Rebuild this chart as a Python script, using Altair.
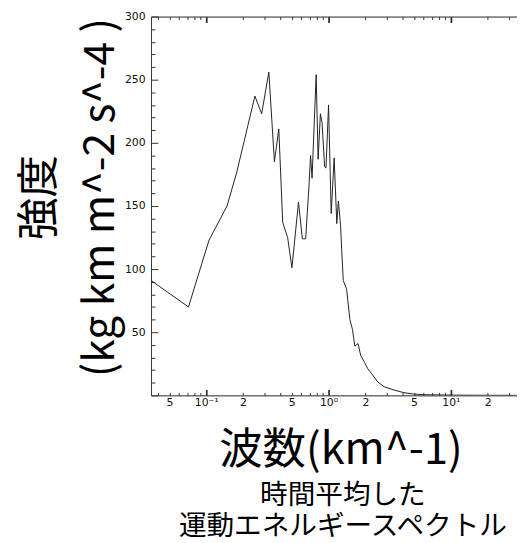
import altair as alt
import pandas as pd

# Wavenumber (km^-1) and intensity
wavenumber = [0.0354, 0.0716, 0.1055, 0.148, 0.178, 0.250, 0.284, 0.325, 0.361, 0.392,
              0.422, 0.463, 0.502, 0.568, 0.611, 0.650, 0.691, 0.713, 0.733, 0.792,
              0.822, 0.858, 0.885, 0.929, 0.953, 1.0, 1.051, 1.111, 1.168, 1.203,
              1.253, 1.281, 1.319, 1.405, 1.494, 1.570, 1.639, 1.742, 1.832, 1.971,
              2.095, 2.298, 2.522, 2.852, 3.434, 4.131, 4.97, 5.98, 10.0, 20.0, 34.7]
intensity = [91, 70, 123, 150, 177, 237, 223, 256, 185, 211,
             137, 125, 101, 153, 124, 124, 165, 190, 172, 254,
             187, 223, 216, 181, 180, 230, 144, 188, 136, 154,
             135, 115, 91, 84, 60, 52, 39, 41, 31.5, 26,
             21, 16, 10.7, 6.8, 4.2, 2.1, 1.0, 0.5, 0.2, 0.05, 0.0]

x_ticks = [0.04, 0.05, 0.06, 0.07, 0.08, 0.09,
           0.1, 0.2, 0.3, 0.4, 0.5, 0.6, 0.7, 0.8, 0.9,
           1, 2, 3, 4, 5, 6, 7, 8, 9, 10, 20, 30]
y_ticks = list(range(0, 310, 10))
x_domain = [0.0354, 34.7]
y_domain = [0, 300]

y_title = ["強度", "(kg km m^-2 s^-4 )"]
x_title = "波数(km^-1)"
sub_title = ["時間平均した", "運動エネルギースペクトル"]

df = pd.DataFrame({"k": wavenumber, "v": intensity})

decade = "abs(log(datum.value)/LN10 - round(log(datum.value)/LN10)) < 0.001"
x_label_expr = (
    "datum.value == 0.1 ? '10⁻¹' : datum.value == 1 ? '10⁰' : datum.value == 10 ? '10¹' : "
    "(datum.value == 0.05 || datum.value == 0.5 || datum.value == 5) ? '5' : "
    "(datum.value == 0.2 || datum.value == 2 || datum.value == 20) ? '2' : ''"
)

xscale = alt.Scale(type="log", domain=x_domain, nice=False)
yscale = alt.Scale(domain=y_domain, nice=False, zero=False)

axis_common = dict(
    domainColor="#333", domainWidth=1, tickColor="#333",
    labelFont="DejaVu Sans", labelFontSize=11, labelColor="#111",
    grid=False, labelOverlap=False, labelFlush=False,
)

x_bottom = alt.Axis(
    values=x_ticks, labelExpr=x_label_expr, orient="bottom",
    tickSize={"condition": {"test": decade, "value": -6}, "value": -3},
    tickWidth={"condition": {"test": decade, "value": 1.8}, "value": 1},
    labelPadding={"condition": {"test": decade, "value": 7}, "value": 4},
    title=x_title, titleFont="Noto Sans CJK JP", titleFontSize=44,
    titleFontWeight="normal", titleColor="black",
    titleY=56, titleBaseline="middle", titleX=192, titleAlign="center",
    **axis_common,
)
x_top = alt.Axis(
    values=x_ticks, orient="top", labels=False, title=None,
    tickSize={"condition": {"test": decade, "value": -6}, "value": -3},
    tickWidth={"condition": {"test": decade, "value": 1.8}, "value": 1},
    **axis_common,
)
y_left = alt.Axis(
    values=y_ticks, orient="left",
    labelExpr="datum.value % 50 == 0 && datum.value > 0 ? datum.label : ''",
    tickSize={"condition": {"test": "datum.value % 50 == 0", "value": -7}, "value": -4},
    labelPadding=13,
    title=y_title, titleFont="Noto Sans CJK JP", titleFontSize=43,
    titleFontWeight="normal", titleColor="black", titleLineHeight=62,
    titleAngle=270, titleX=-113, titleY=183, titleAlign="center", titleBaseline="middle",
    **axis_common,
)

line = alt.Chart(df).mark_line(color="#222", strokeWidth=1, clip=True).encode(
    x=alt.X("k:Q", scale=xscale, axis=x_bottom),
    y=alt.Y("v:Q", scale=yscale, axis=y_left),
)
top = alt.Chart(df).mark_line(strokeOpacity=0, clip=True).encode(
    x=alt.X("k:Q", scale=xscale, axis=x_top),
    y=alt.Y("v:Q", scale=yscale, axis=y_left),
)

chart = alt.layer(line, top).resolve_axis(x="independent", y="shared").properties(
    width=371, height=384,
    autosize="none",
    padding={"left": 145, "top": 5, "right": 0, "bottom": 146},
    title=alt.TitleParams(
        text=sub_title, orient="bottom", anchor="middle", frame="group",
        font="Noto Sans CJK JP", fontSize=28, lineHeight=32, fontWeight="normal",
        color="black", offset=10, dx=9,
    ),
).configure_view(stroke=None).configure(background="white")

chart.save("out.html", embed_options={"renderer": "svg", "actions": False})
